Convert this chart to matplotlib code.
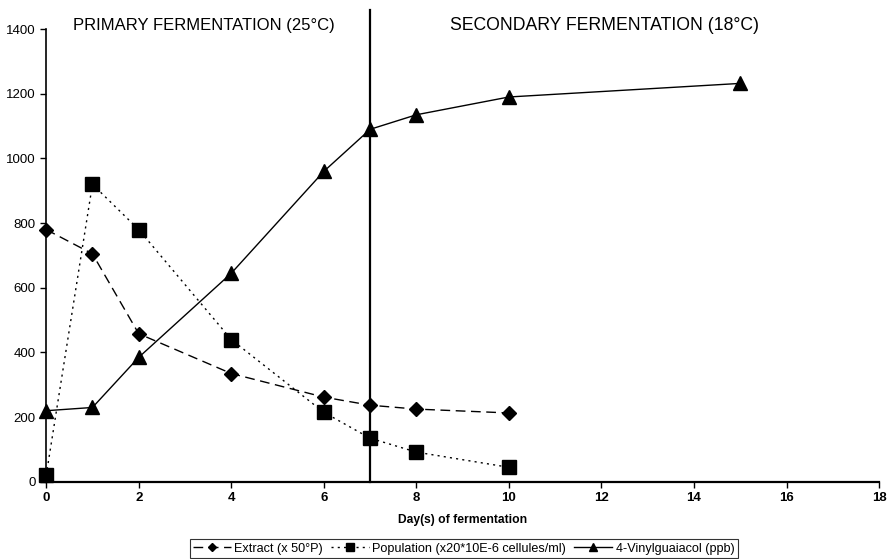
import matplotlib
matplotlib.use("Agg")
import matplotlib.pyplot as plt

plt.rcParams['font.family'] = ['Liberation Sans', 'DejaVu Sans']

days_extract = [0, 1, 2, 4, 6, 7, 8, 10]
extract = [780, 705, 458, 335, 262, 237, 225, 213]

days_pop = [0, 1, 2, 4, 6, 7, 8, 10]
population = [20, 920, 780, 440, 215, 135, 92, 45]

days_vg = [0, 1, 2, 4, 6, 7, 8, 10, 15]
vinylguaiacol = [220, 230, 385, 645, 960, 1090, 1135, 1190, 1232]

labels = ["Extract (x 50°P)", "Population (x20*10E-6 cellules/ml)", "4-Vinylguaiacol (ppb)"]

fig = plt.figure(figsize=(8.88, 5.59), dpi=100)
ax = fig.add_axes([0.052, 0.138, 0.938, 0.81])

ax.plot(days_extract, extract, color="black", lw=1, linestyle=(0, (7, 4)),
        marker="D", ms=7, label=labels[0], clip_on=False, zorder=3)
ax.plot(days_pop, population, color="black", lw=1, linestyle=(0, (1.5, 3)),
        marker="s", ms=10, label=labels[1], clip_on=False, zorder=3)
ax.plot(days_vg, vinylguaiacol, color="black", lw=1, linestyle="-",
        marker="^", ms=10, label=labels[2], clip_on=False, zorder=3)

# separation between the two fermentation phases
ax.plot([7, 7], [0, 1460], color="black", lw=1.6, clip_on=False, zorder=2)

ax.text(0.032, 1.007, "PRIMARY FERMENTATION (25°C)", transform=ax.transAxes,
        fontsize=12, va="center", ha="left")
ax.text(0.485, 1.007, "SECONDARY FERMENTATION (18°C)", transform=ax.transAxes,
        fontsize=12.7, va="center", ha="left")

ax.set_xlim(0, 18)
ax.set_ylim(0, 1400)
ax.set_xticks(range(0, 19, 2))
ax.set_yticks(range(0, 1401, 200))
ax.tick_params(axis="both", direction="out", length=4, width=1, labelsize=9.5)
for t in ax.get_xticklabels():
    t.set_fontweight("bold")
ax.spines["top"].set_visible(False)
ax.spines["right"].set_visible(False)
ax.spines["left"].set_linewidth(1.2)
ax.spines["bottom"].set_linewidth(1.6)

ax.set_xlabel("Day(s) of fermentation", fontsize=8.7, fontweight="bold", labelpad=7)

leg = fig.legend(loc="lower center", bbox_to_anchor=(0.522, 0.0), ncol=3,
                 fontsize=9.1, frameon=True, fancybox=False, edgecolor="black",
                 handlelength=3.0, handletextpad=0.3, columnspacing=0.6,
                 borderpad=0.25, borderaxespad=0.1, markerscale=0.55)
leg.get_frame().set_linewidth(0.8)

fig.savefig("out.png", dpi=100)
